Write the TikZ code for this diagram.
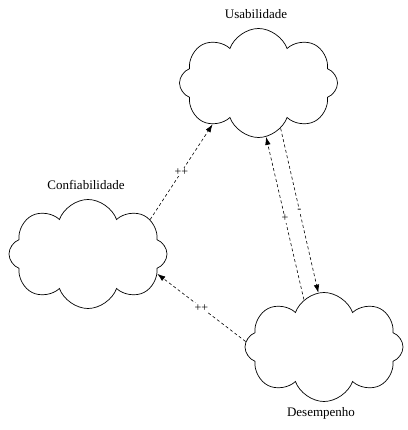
\documentclass[tikz,border=0pt]{standalone}
\usepackage{fontspec}
\setmainfont{Liberation Serif}
\usetikzlibrary{shapes.symbols,arrows.meta}
\begin{document}
\begin{tikzpicture}[x=1pt,y=-1pt,
  cloudbox/.style={cloud, cloud puffs=8, cloud puff arc=140, cloud ignores aspect,
    draw, line width=0.7pt, minimum width=158pt, minimum height=109pt, inner sep=0pt, shape border rotate=10},
  title/.style={font=\fontsize{13}{15}\selectfont},
  link/.style={dash pattern=on 3pt off 2.5pt, line width=0.6pt, -{Latex[length=8pt,width=5.5pt]}},
  sign/.style={fill=white, inner sep=1pt, font=\fontsize{12}{13}\selectfont}]
\useasboundingbox (0,0) rectangle (407,430);
\node[cloudbox] (u) at (258.5,83) {};
\node[cloudbox] (c) at (88,254) {};
\node[cloudbox] (d) at (324,347) {};
\node[title] (ut) at (256,14) {Usabilidade};
\node[title] (ct) at (86,185) {Confiabilidade};
\node[title] (dt) at (321,413) {Desempenho};
\draw[link] (c.29) -- node[sign] (s1) {++} (u.222);
\draw[link] (d.176) -- node[sign] (s2) {++} (c.344);
\draw[link] (d.113) -- node[sign] (s3) {+} (u.278);
\draw[link] (u.296) -- node[sign] (s4) {-} (d.96);
\end{tikzpicture}
\end{document}
